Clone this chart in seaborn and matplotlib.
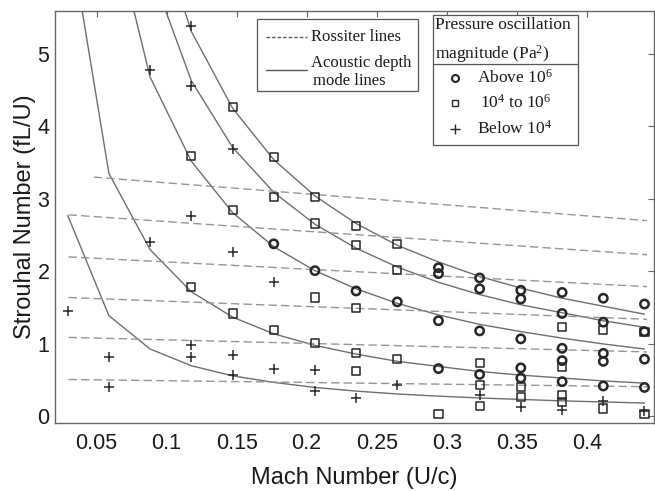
import numpy as np
import pandas as pd
import matplotlib
matplotlib.use("Agg")
import matplotlib.pyplot as plt
import seaborn as sns
from matplotlib.patches import Rectangle
from matplotlib.lines import Line2D

# Test Mach numbers (U/c), one per flow speed setting
mach_grid = [0.0294, 0.0588, 0.0882, 0.1176, 0.1471, 0.1765, 0.2059, 0.2353,
             0.2647, 0.2941, 0.3235, 0.3529, 0.3824, 0.4118, 0.4412]

# Acoustic depth mode lines: Strouhal number at each test Mach number (nan = not drawn)
nan = float("nan")
mode_1 = [2.77, 1.39, 0.93, 0.70, 0.56, 0.47, 0.40, 0.35, 0.31, 0.28, 0.255, 0.235, 0.215, 0.20, 0.185]
mode_2 = [6.80, 3.35, 2.30, 1.72, 1.37, 1.14, 0.98, 0.86, 0.76, 0.69, 0.62, 0.57, 0.53, 0.49, 0.46]
mode_3 = [nan, 7.00, 4.68, 3.52, 2.81, 2.34, 2.01, 1.76, 1.56, 1.40, 1.27, 1.17, 1.08, 1.00, 0.93]
mode_4 = [nan, nan, 6.18, 4.63, 3.71, 3.09, 2.65, 2.32, 2.06, 1.85, 1.68, 1.54, 1.43, 1.32, 1.23]
mode_5 = [nan, nan, 7.08, 5.31, 4.25, 3.54, 3.04, 2.66, 2.36, 2.13, 1.93, 1.77, 1.63, 1.52, 1.41]

# Rossiter lines: end points (Mach, Strouhal)
rossiter_mach_start = [0.048, 0.030, 0.030, 0.030, 0.030, 0.030]
rossiter_st_start = [3.30, 2.78, 2.20, 1.64, 1.09, 0.51]
rossiter_mach_end = [0.443, 0.443, 0.443, 0.443, 0.443, 0.443]
rossiter_st_end = [2.70, 2.23, 1.79, 1.34, 0.89, 0.41]

# Measured peaks, grouped by pressure oscillation magnitude
above_mach = [0.1765, 0.2059, 0.2353, 0.2647,
              0.2941, 0.2941, 0.2941, 0.2941,
              0.3235, 0.3235, 0.3235, 0.3235,
              0.3529, 0.3529, 0.3529, 0.3529, 0.3529,
              0.3824, 0.3824, 0.3824, 0.3824, 0.3824,
              0.4118, 0.4118, 0.4118, 0.4118, 0.4118,
              0.4412, 0.4412, 0.4412, 0.4412]
above_st = [2.38, 2.01, 1.73, 1.58,
            2.05, 1.97, 1.32, 0.66,
            1.91, 1.76, 1.18, 0.58,
            1.74, 1.62, 1.07, 0.67, 0.53,
            1.71, 1.42, 0.94, 0.77, 0.48,
            1.63, 1.30, 0.87, 0.76, 0.42,
            1.55, 1.17, 0.79, 0.40]

mid_mach = [0.1176, 0.1176,
            0.1471, 0.1471, 0.1471,
            0.1765, 0.1765, 0.1765,
            0.2059, 0.2059, 0.2059, 0.2059,
            0.2353, 0.2353, 0.2353, 0.2353, 0.2353,
            0.2647, 0.2647, 0.2647,
            0.2941,
            0.3235, 0.3235, 0.3235,
            0.3529, 0.3529,
            0.3824, 0.3824, 0.3824, 0.3824,
            0.4118, 0.4118,
            0.4412, 0.4412]
mid_st = [3.59, 1.79,
          4.27, 2.85, 1.42,
          3.58, 3.03, 1.19,
          3.02, 2.66, 1.64, 1.01,
          2.63, 2.37, 1.49, 0.87, 0.63,
          2.38, 2.02, 0.79,
          0.04,
          0.74, 0.44, 0.14,
          0.41, 0.27,
          1.23, 0.68, 0.29, 0.20,
          1.19, 0.11,
          1.17, 0.04]

below_mach = [0.0294,
              0.0588, 0.0588,
              0.0882, 0.0882,
              0.1176, 0.1176, 0.1176, 0.1176, 0.1176,
              0.1471, 0.1471, 0.1471, 0.1471,
              0.1765, 0.1765,
              0.2059, 0.2059,
              0.2353, 0.2647, 0.3235, 0.3529, 0.3824, 0.4118, 0.4412]
below_st = [1.45,
            0.82, 0.41,
            4.77, 2.40,
            5.38, 4.55, 2.76, 0.98, 0.82,
            3.69, 2.27, 0.85, 0.57,
            1.85, 0.65,
            0.64, 0.35,
            0.25, 0.43, 0.29, 0.13, 0.09, 0.22, 0.07]

W, H = 655, 491
sns.set_theme(style="white")
plt.rcParams["font.family"] = ["Liberation Sans", "DejaVu Sans"]
plt.rcParams["mathtext.fontset"] = "custom"
plt.rcParams["mathtext.rm"] = "Liberation Serif"
plt.rcParams["mathtext.it"] = "Liberation Serif:italic"

fig = plt.figure(figsize=(W / 100, H / 100), dpi=100)
ax = fig.add_axes([55 / W, 1 - 423 / H, 599 / W, 412 / H])

# Acoustic depth mode curves
modes = [mode_1, mode_2, mode_3, mode_4, mode_5]
mode_df = pd.DataFrame({
    "mach": np.tile(mach_grid, len(modes)),
    "st": np.concatenate(modes),
    "mode": np.repeat(np.arange(len(modes)), len(mach_grid)),
}).dropna()
sns.lineplot(data=mode_df, x="mach", y="st", units="mode", estimator=None,
             sort=False, color="#6e6e6e", linewidth=1.0, ax=ax)

# Rossiter lines
ross_df = pd.DataFrame({
    "mach": np.concatenate([rossiter_mach_start, rossiter_mach_end]),
    "st": np.concatenate([rossiter_st_start, rossiter_st_end]),
    "order": np.tile(np.arange(len(rossiter_st_start)), 2),
})
sns.lineplot(data=ross_df, x="mach", y="st", units="order", estimator=None,
             color="#959595", linewidth=1.0, ax=ax, linestyle=(0, (6, 3)))

# Measured peaks
mk = "#262626"
sns.scatterplot(x=above_mach, y=above_st, marker="o", s=36, facecolor="none",
                edgecolor=mk, linewidth=1.8, ax=ax, zorder=5)
sns.scatterplot(x=mid_mach, y=mid_st, marker="s", s=34, facecolor="none",
                edgecolor=mk, linewidth=1.1, ax=ax, zorder=5)
sns.scatterplot(x=below_mach, y=below_st, marker="+", s=60, color=mk,
                linewidth=1.1, ax=ax, zorder=5)

ax.set_xlim(0.0203, 0.448)
ax.set_ylim(-0.09, 5.59)
ax.set_xticks([0.05, 0.1, 0.15, 0.2, 0.25, 0.3, 0.35, 0.4])
ax.set_xticklabels(["0.05", "0.1", "0.15", "0.2", "0.25", "0.3", "0.35", "0.4"])
ax.set_yticks([0, 1, 2, 3, 4, 5])
ax.tick_params(axis="both", which="both", direction="in", length=4, width=0.8,
               color="#666666", top=True, right=True, labelsize=15.5,
               labelcolor="#1a1a1a")
ax.tick_params(axis="x", pad=7)
ax.tick_params(axis="y", pad=4)
for sp in ax.spines.values():
    sp.set_color("#666666")
    sp.set_linewidth(1.0)

ax.set_xlabel("Mach Number (U/c)", fontsize=17, color="#1a1a1a")
ax.set_ylabel("Strouhal Number (fL/U)", fontsize=17, color="#1a1a1a")
ax.xaxis.set_label_coords(0.5, -(467 - 423) / 412)
ax.yaxis.set_label_coords(-(55 - 36) / 599, 0.5)


def fx(x):
    return x / W


def fy(y):
    return 1 - y / H


serif = ["Liberation Serif", "DejaVu Serif"]
tcol = "#1a1a1a"

# Line-type key box
fig.add_artist(Rectangle((fx(257), fy(91)), 161 / W, 72 / H, transform=fig.transFigure,
                         facecolor="white", edgecolor="#555555", linewidth=0.9, zorder=10))
fig.add_artist(Line2D([fx(266), fx(307)], [fy(37), fy(37)], transform=fig.transFigure,
                      color="#555555", linewidth=1.0, linestyle=(0, (2.5, 1.5)), zorder=11))
fig.add_artist(Line2D([fx(266), fx(307)], [fy(70), fy(70)], transform=fig.transFigure,
                      color="#555555", linewidth=1.0, zorder=11))
fig.text(fx(311), fy(37), "Rossiter lines", family=serif, fontsize=12, color=tcol,
         va="center", ha="left", zorder=12)
fig.text(fx(311), fy(63), "Acoustic depth", family=serif, fontsize=12, color=tcol,
         va="center", ha="left", zorder=12)
fig.text(fx(313), fy(81), "mode lines", family=serif, fontsize=12, color=tcol,
         va="center", ha="left", zorder=12)

# Pressure magnitude key box
fig.add_artist(Rectangle((fx(433), fy(145)), 145 / W, 130 / H, transform=fig.transFigure,
                         facecolor="white", edgecolor="#555555", linewidth=0.9, zorder=10))
fig.add_artist(Line2D([fx(433), fx(578)], [fy(63.5), fy(63.5)], transform=fig.transFigure,
                      color="#555555", linewidth=0.9, zorder=11))
fig.text(fx(435), fy(25), "Pressure oscillation", family=serif, fontsize=12.5, color=tcol,
         va="center", ha="left", zorder=12)
fig.text(fx(435), fy(54), r"magnitude (Pa$^{2}$)", family=serif, fontsize=12.5, color=tcol,
         va="center", ha="left", zorder=12)
key_rows = [(78, "o", r"Above 10$^{6}$", 477),
            (103, "s", r"10$^{4}$ to 10$^{6}$", 480),
            (129, "+", r"Below 10$^{4}$", 477)]
for yy, m, label, tx in key_rows:
    if m == "+":
        fig.add_artist(Line2D([fx(455)], [fy(yy)], transform=fig.transFigure, marker="+",
                              markersize=7, color=mk, markeredgewidth=1.0, zorder=11))
    else:
        fig.add_artist(Line2D([fx(455)], [fy(yy)], transform=fig.transFigure, marker=m,
                              markersize=5, markerfacecolor="none",
                              markeredgecolor=mk, markeredgewidth=1.5 if m == "o" else 1.0,
                              zorder=11))
    fig.text(fx(tx), fy(yy), label, family=serif, fontsize=12.5, color=tcol,
             va="center", ha="left", zorder=12)

fig.savefig("out.png", dpi=100)
